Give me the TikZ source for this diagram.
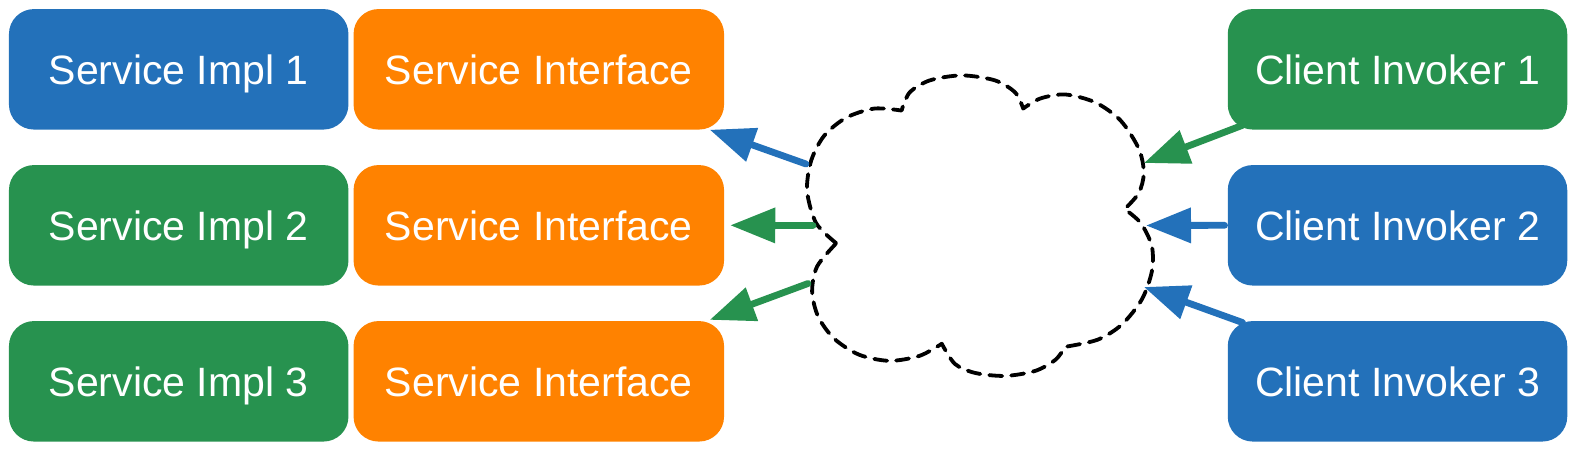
\documentclass[tikz,border=0pt]{standalone}
\usepackage{fontspec}
\setmainfont{Liberation Sans}
\usetikzlibrary{arrows.meta}
\definecolor{rpcblue}{RGB}{35,113,186}
\definecolor{rpcgreen}{RGB}{39,146,79}
\definecolor{rpcorange}{RGB}{255,130,0}
\begin{document}
\begin{tikzpicture}[x=1pt, y=-1pt, line join=round, line cap=round,
 box/.style={rounded corners=25pt, text=white, font=\fontsize{41}{48}\selectfont, minimum height=120.5pt, text height=29.5pt, text depth=0pt, inner sep=0pt},
 impl/.style={box, minimum width=339.5pt},
 iface/.style={box, fill=rpcorange, minimum width=370.5pt},
 flow/.style={line width=6.8pt, -{Triangle[length=45pt,width=34pt]}}]
 \useasboundingbox (0,0) rectangle (1576,451);
 % server side
 \node[impl, fill=rpcblue] (impl1) at (178.7,69.3) {Service Impl 1};
 \node[impl, fill=rpcgreen] (impl2) at (178.7,225.3) {Service Impl 2};
 \node[impl, fill=rpcgreen] (impl3) at (178.7,381.3) {Service Impl 3};
 \node[iface] (iface1) at (538.8,69.3) {Service Interface};
 \node[iface] (iface2) at (538.8,225.3) {Service Interface};
 \node[iface] (iface3) at (538.8,381.3) {Service Interface};
 % client side
 \node[impl, fill=rpcgreen] (client1) at (1397.5,69.3) {Client Invoker 1};
 \node[impl, fill=rpcblue] (client2) at (1397.5,225.3) {Client Invoker 2};
 \node[impl, fill=rpcblue] (client3) at (1397.5,381.3) {Client Invoker 3};
 % network cloud
 \draw[scale=1.0051, line width=3.8pt, dash pattern=on 13pt off 9pt]
  plot[smooth] coordinates {(832,242) (812,222) (803,190) (807,160) (820,135) (842,117) (870,108) (897,110)}
  -- plot[smooth] coordinates {(897,110) (905,92) (925,80) (957,75) (990,80) (1010,92) (1018,108)}
  -- plot[smooth] coordinates {(1018,108) (1035,98) (1060,94) (1090,102) (1115,120) (1133,148) (1138,172) (1133,192) (1119,208)}
  -- plot[smooth] coordinates {(1119,208) (1135,222) (1146,245) (1146,270) (1136,298) (1116,323) (1092,338) (1060,345)}
  -- plot[smooth] coordinates {(1060,345) (1050,358) (1030,369) (1000,374) (970,371) (950,362) (937,342)}
  -- plot[smooth] coordinates {(937,342) (915,354) (885,359) (855,353) (830,337) (814,315) (808,290) (813,265) (832,242)};
 \coordinate (out1) at (806,164);
 \coordinate (out2) at (813,225.5);
 \coordinate (out3) at (808,283.5);
 \coordinate (in1) at (1144,163);
 \coordinate (in2) at (1146,225.5);
 \coordinate (in3) at (1144,287);
 % calls
 \draw[flow, rpcblue] (out1) -- ([xshift=-14.5pt]iface1.south east);
 \draw[flow, rpcgreen] (out2) -- ([xshift=6pt]iface2.east);
 \draw[flow, rpcgreen] (out3) -- ([xshift=-14.5pt, yshift=1pt]iface3.north east);
 \draw[flow, rpcgreen] ([xshift=15pt, yshift=4.5pt]client1.south west) -- (in1);
 \draw[flow, rpcblue] ([xshift=-3pt]client2.west) -- (in2);
 \draw[flow, rpcblue] ([xshift=15pt, yshift=-1.7pt]client3.north west) -- (in3);
\end{tikzpicture}
\end{document}
